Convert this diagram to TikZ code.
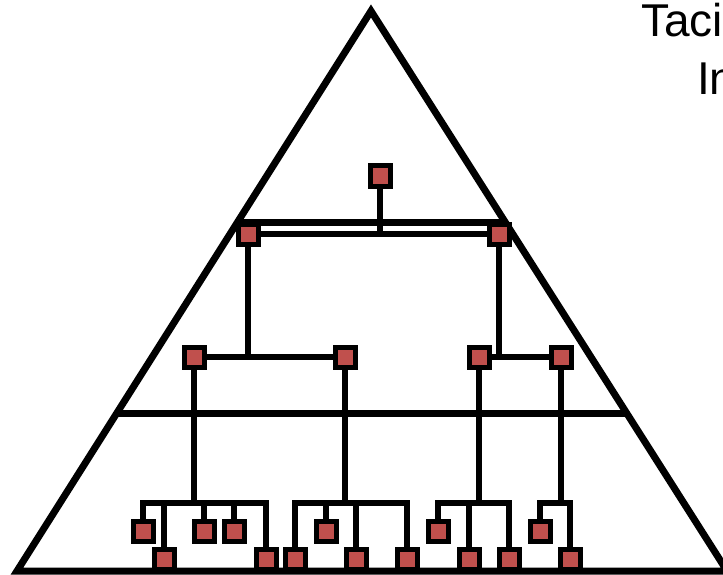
\documentclass[tikz,border=0pt]{standalone}
\usepackage{fontspec}
\setmainfont{Liberation Sans}
\definecolor{cellred}{HTML}{C0504D}
\pgfdeclarelayer{wires}
\pgfsetlayers{wires,main}
\begin{document}
\begin{tikzpicture}[x=1pt,y=-1pt,
  cell/.style={rectangle, draw=black, fill=cellred, line width=5pt,
               minimum size=20pt, inner sep=0pt},
  wire/.style={line width=5.5pt},
  pyramidline/.style={line width=7pt, line join=miter},
  captiontext/.style={font=\fontsize{46}{52}\selectfont, inner sep=0pt, anchor=base west}]
\useasboundingbox (0,0) rectangle (723,575);
\clip (0,0) rectangle (723,575);

% pyramid outline and its two tiers
\draw[pyramidline] (371,11) -- (17,571) -- (727,571) -- cycle;
\draw[pyramidline] (237.8,222) -- (504.2,222);
\draw[pyramidline] (117.1,413) -- (624.9,413);

% caption
\node[captiontext] (cap1) at (641,37) {Taci};
\node[captiontext] (cap2) at (697,95) {In};

% hierarchy
\node[cell] (t) at (380,176) {};
\node[cell] (a) at (248,234) {};
\node[cell] (b) at (499,234) {};
\node[cell] (c) at (194,357) {};
\node[cell] (d) at (345,357) {};
\node[cell] (e) at (479,357) {};
\node[cell] (f) at (561,357) {};

% leaves under c
\node[cell] (c1) at (143,531) {};
\node[cell] (c2) at (164,559) {};
\node[cell] (c3) at (204,531) {};
\node[cell] (c4) at (234,531) {};
\node[cell] (c5) at (266,559) {};
% leaves under d
\node[cell] (d1) at (295,559) {};
\node[cell] (d2) at (326,531) {};
\node[cell] (d3) at (356,559) {};
\node[cell] (d4) at (407,559) {};
% leaves under e
\node[cell] (e1) at (438,531) {};
\node[cell] (e2) at (469,559) {};
\node[cell] (e3) at (509,559) {};
% leaves under f
\node[cell] (f1) at (540,531) {};
\node[cell] (f2) at (570,559) {};

\coordinate (lowbar) at (0,503);

\begin{pgfonlayer}{wires}
  \draw[wire] (a) -- (b);
  \draw[wire] (t) -- (t |- a);
  \draw[wire] (c) -- (d);
  \draw[wire] (a) -- (a |- c);
  \draw[wire] (e) -- (f);
  \draw[wire] (b) -- (b |- e);
  \foreach \k in {c1,c2,c3,c4,c5} \draw[wire] (c) -- (c |- lowbar) -| (\k);
  \foreach \k in {d1,d2,d3,d4} \draw[wire] (d) -- (d |- lowbar) -| (\k);
  \foreach \k in {e1,e2,e3} \draw[wire] (e) -- (e |- lowbar) -| (\k);
  \foreach \k in {f1,f2} \draw[wire] (f) -- (f |- lowbar) -| (\k);
\end{pgfonlayer}
\end{tikzpicture}
\end{document}
